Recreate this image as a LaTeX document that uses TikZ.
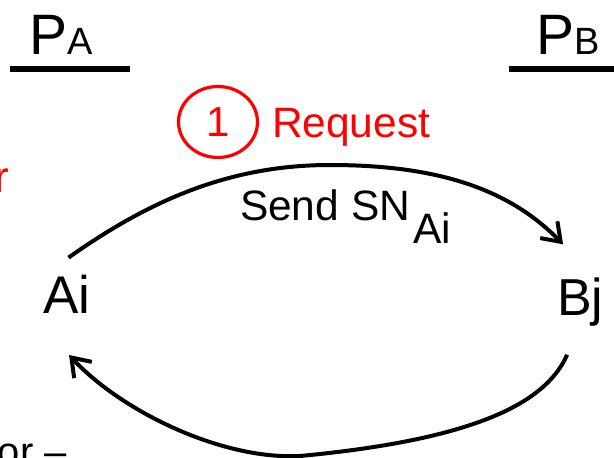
\documentclass[tikz,border=0pt]{standalone}
\usepackage{fontspec}
\setmainfont{Liberation Sans}
\usetikzlibrary{arrows.meta,shapes.geometric}
\begin{document}
\begin{tikzpicture}[x=1pt,y=-1pt,
  lbl/.style={inner sep=0pt, outer sep=0pt},
  flow/.style={line width=4pt, -{Straight Barb[length=17pt,width=24pt]}},
  bar/.style={line width=6pt},
  stepcircle/.style={draw=red, line width=3.2pt, ellipse, minimum width=79pt, minimum height=71pt, inner sep=0pt, text=red}]
\useasboundingbox (0,0) rectangle (614,458);
\clip (0,0) rectangle (614,458);
% titles
\node[lbl, anchor=base west] (PA) at (29,54) {\fontsize{57}{60}\selectfont P\fontsize{38}{40}\selectfont A};
\node[lbl, anchor=base west] (PB) at (536,54) {\fontsize{57}{60}\selectfont P\fontsize{38}{40}\selectfont B};
\draw[bar] (10,69) -- (130,69);
\draw[bar] (509,69) -- (620,69);
% step label
\node[stepcircle] (one) at (218,122) {\fontsize{42}{44}\selectfont 1};
\node[lbl, anchor=base west, text=red] (req) at (272,137) {\fontsize{42.5}{44}\selectfont Request};
\node[lbl, anchor=base west] (send) at (240,220) {\fontsize{42.5}{44}\selectfont Send SN\kern3pt\raisebox{-23pt}{Ai}};
% endpoints
\node[lbl, anchor=base west] (Ai) at (43,313) {\fontsize{53}{56}\selectfont Ai};
\node[lbl, anchor=base west] (Bj) at (557,315) {\fontsize{52}{56}\selectfont Bj};
% cut-off texts at the edges
\node[lbl, anchor=base east, text=red] (rcut) at (9,192) {\fontsize{44}{46}\selectfont r};
\node[lbl, anchor=base west] (orcut) at (-2,465) {\fontsize{40}{44}\selectfont or –};
% connectors
\draw[flow] ([shift={(2,-17)}]Ai.north) .. controls (150,200) and (230,165) .. (330,165)
  .. controls (440,165) and (510,190) .. ([shift={(-17,-33)}]Bj.north);
\draw[flow] ([shift={(-13,29)}]Bj.south) .. controls (545,405) and (470,440) .. (300,456)
  .. controls (220,460) and (120,410) .. ([shift={(2.5,42)}]Ai.south);
\end{tikzpicture}
\end{document}
